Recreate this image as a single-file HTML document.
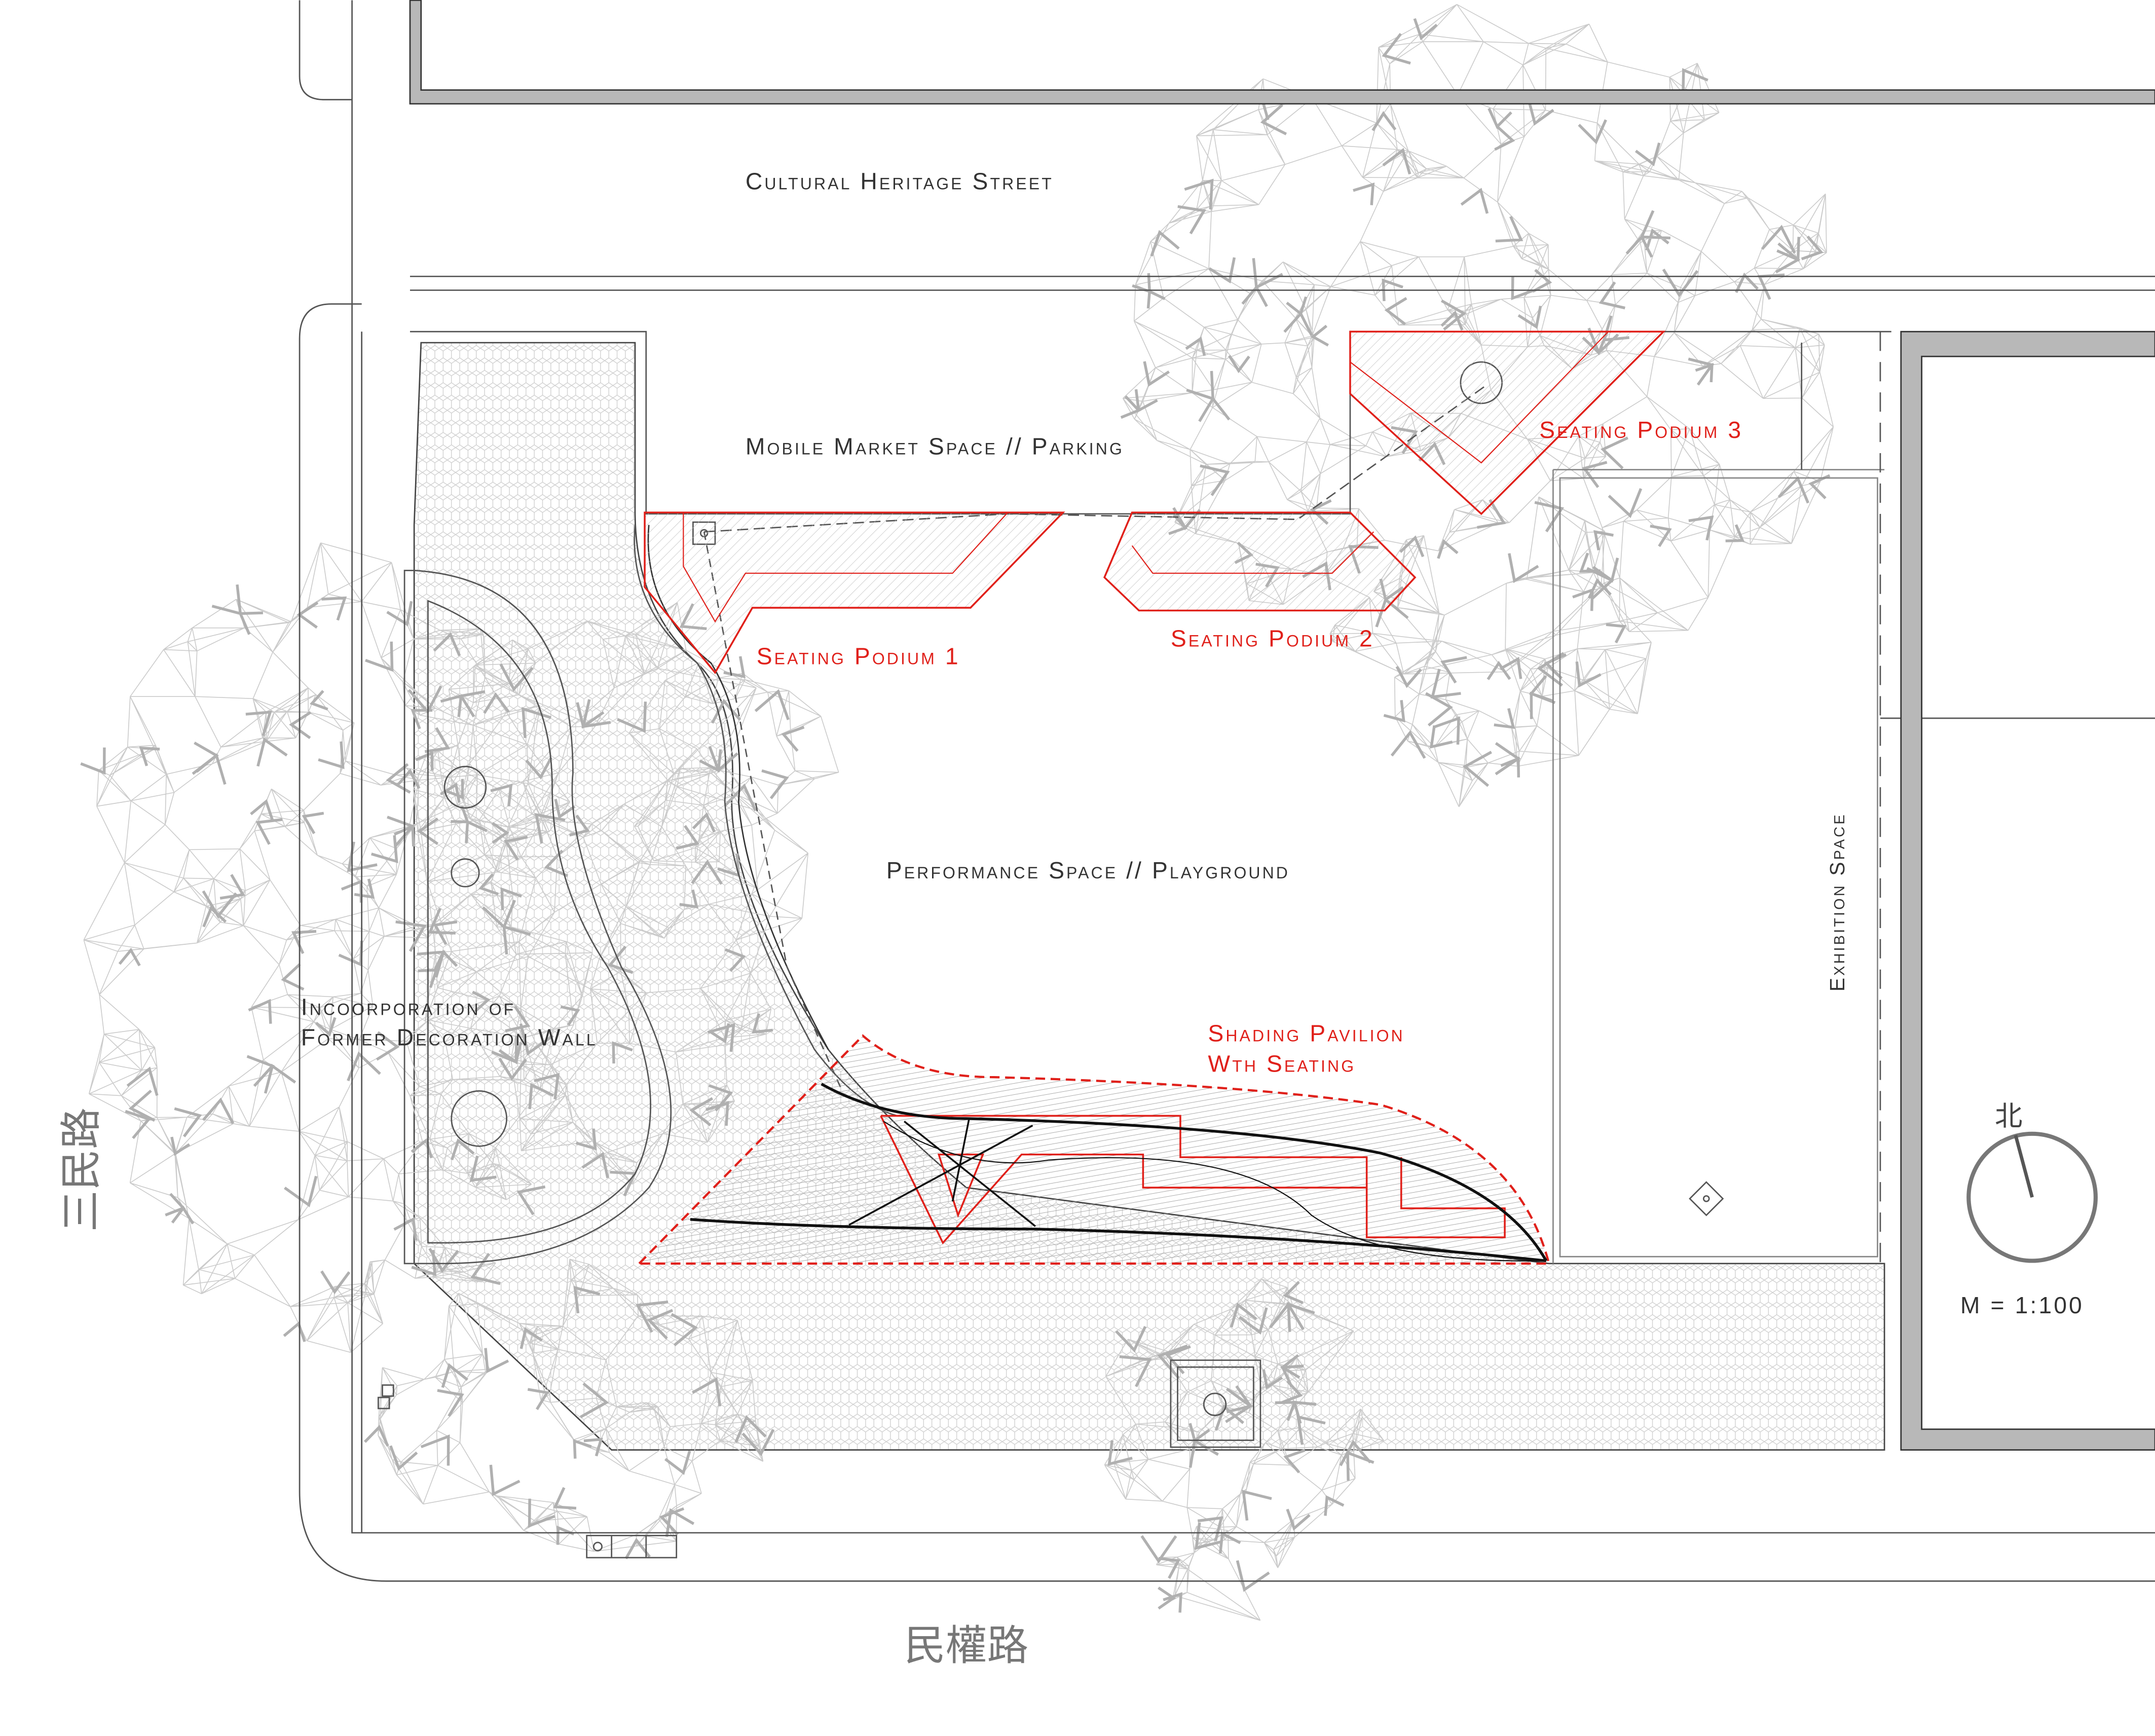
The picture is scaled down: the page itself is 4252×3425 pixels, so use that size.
<!DOCTYPE html>
<html><head><meta charset="utf-8"><style>
html,body{margin:0;padding:0;background:#fff}
svg{display:block}
.t{font-family:"Liberation Sans","Noto Sans CJK SC",sans-serif;font-variant:small-caps;letter-spacing:1.5px;fill:#333}
.r{fill:#e0201a}
</style></head><body>
<svg id="s" width="4252" height="3425" viewBox="0 0 1561 1257" xmlns="http://www.w3.org/2000/svg">
<defs>
<pattern id="hex" width="6" height="9" patternUnits="userSpaceOnUse">
<path d="M0 0 L3 2 L3 7 L0 9 M6 0 L3 2 M3 7 L6 9" fill="none" stroke="#cfcfcf" stroke-width="0.5"/>
</pattern>
<pattern id="hatch" width="4" height="4" patternUnits="userSpaceOnUse" patternTransform="rotate(80)">
<line x1="0" y1="0" x2="0" y2="4" stroke="#999" stroke-width="0.6"/>
</pattern>
<pattern id="hatch2" width="5" height="5" patternUnits="userSpaceOnUse" patternTransform="rotate(45)">
<line x1="0" y1="0" x2="0" y2="5" stroke="#bbb" stroke-width="0.5"/>
</pattern>
</defs>
<rect width="1561" height="1257" fill="#fff"/>
<!-- paving -->
<path d="M305 248 L460 248 L460 370 Q460 440 505 480 Q535 510 530 580 Q530 650 600 760 Q640 810 700 860 L1122 915 L1365 915 L1365 1050 L443 1050 L300 915 L300 380 Z" fill="url(#hex)" stroke="#444" stroke-width="1"/>
<g id="trees" fill="none"></g>
<!-- roads / boundaries -->
<g fill="none" stroke="#555" stroke-width="1">
<path d="M217 0 V55 Q217 72 235 72 H255"/>
<path d="M255 0 V1110 H1561"/>
<path d="M262 220 H240 Q217 220 217 245 V1080 Q217 1145 280 1145 H1561"/>
<path d="M297 200 H1561 M297 210 H1561"/>
<path d="M297 240 H468 V372 H978 V240 H1370"/>
<path d="M262 240 V1110"/>
<path d="M1125 340 H1365 M1125 340 V915 M1130 346 H1360 V910 H1130 Z" stroke="#888"/>
<path d="M1362 240 V915" stroke-dasharray="14 8"/>
<path d="M1362 520 H1561"/>
<path d="M1305 248 V340"/>
<path d="M293 413 H300 Q415 420 415 560 Q410 610 450 700 Q510 800 470 860 Q420 915 320 915 H293 Z"/>
<path d="M310 435 Q400 470 400 570 Q400 640 440 700 Q490 790 460 850 Q420 900 320 900 H310 Z"/>
<path d="M460 380 Q455 440 505 480 Q530 520 525 580 Q530 650 590 760 Q620 800 650 808"/>
<path d="M470 380 Q465 440 515 480 Q540 520 535 580 Q540 650 600 760" stroke="#333"/>
<path d="M510 385 L570 700 L610 790" stroke-dasharray="6 4"/>
<path d="M510 385 L730 372 L940 376 L1075 280" stroke-dasharray="8 4"/>
<rect x="848" y="985" width="65" height="63"/><rect x="853" y="990" width="55" height="53"/>
<circle cx="880" cy="1017" r="8"/>
<circle cx="337" cy="570" r="15"/><circle cx="337" cy="632" r="10"/><circle cx="347" cy="810" r="20"/>
<circle cx="1073" cy="277" r="15"/>
<rect x="502" y="378" width="16" height="16"/><circle cx="510" cy="386" r="2.5"/>
<rect x="425" y="1112" width="65" height="16"/><path d="M443 1112 V1128 M468 1112 V1128"/><circle cx="433" cy="1120" r="3"/>
<rect x="277" y="1003" width="8" height="8"/><rect x="274" y="1012" width="8" height="8"/>
<path d="M1236 856 L1248 868 L1236 880 L1224 868 Z"/><circle cx="1236" cy="868" r="2"/>
</g>
<!-- buildings -->
<g fill="#b8b8b8" stroke="#333" stroke-width="1">
<path d="M297 0 H305 V65 H1561 V75 H297 Z"/>
<path d="M1377 240 H1561 V258 H1392 V1035 H1561 V1050 H1377 Z"/>
</g>
<!-- podiums -->
<g fill="url(#hatch2)" stroke="#e0201a" stroke-width="1.3">
<path d="M467 371 H770 L703 440 H545 L518 487 L467 425 Z"/>
<path d="M820 371 H978 L1025 418 L1003 442 H825 L800 418 Z"/>
<path d="M978 240 H1205 L1073 372 L978 285 Z"/>
</g>
<g fill="none" stroke="#e0201a" stroke-width="0.8">
<path d="M495 371 V410 L518 450 L540 415 H690 L730 371"/>
<path d="M820 395 L835 415 H965 L995 385"/>
<path d="M978 262 L1073 335 L1165 240"/>
</g>
<!-- pavilion -->
<path d="M463 915 L625 750 Q660 780 720 780 Q900 785 1000 800 Q1100 830 1122 915 Z" fill="url(#hatch)" stroke="#e0201a" stroke-width="1.6" stroke-dasharray="7 4"/>
<g fill="none" stroke="#e0201a" stroke-width="1.3">
<path d="M638 808 H855 V838 H990 V896 H1090 V875 H1015 V838 M638 808 L683 900 L740 836 H828 V860 H990"/>
<path d="M680 836 H712 L694 880 Z"/>
</g>
<g fill="none" stroke="#111" stroke-width="2">
<path d="M595 785 Q640 810 700 810 Q900 815 1000 835 Q1090 860 1120 913"/>
<path d="M500 883 Q600 890 750 890 Q950 895 1120 913"/>
<path d="M615 887 L748 815 M655 812 L750 888 M702 810 L690 870" stroke-width="1.3"/>
<path d="M640 812 Q700 850 760 840 Q900 830 950 880 Q1000 915 1120 913" stroke-width="0.8"/>
</g>
<!-- labels -->
<text class="t" x="540" y="137" font-size="17">Cultural Heritage Street</text>
<text class="t" x="540" y="329" font-size="17">Mobile Market Space // Parking</text>
<text class="t" x="642" y="636" font-size="17">Performance Space // Playground</text>
<text class="t" x="218" y="735" font-size="17">Incoorporation of</text>
<text class="t" x="218" y="757" font-size="17">Former Decoration Wall</text>
<text class="t r" x="548" y="481" font-size="17">Seating Podium 1</text>
<text class="t r" x="848" y="468" font-size="17">Seating Podium 2</text>
<text class="t r" x="1115" y="317" font-size="17">Seating Podium 3</text>
<text class="t r" x="875" y="754" font-size="17">Shading Pavilion</text>
<text class="t r" x="875" y="776" font-size="17">Wth Seating</text>
<text class="t" transform="translate(1336 718) rotate(-90)" font-size="15">Exhibition Space</text>
<text class="t" x="1420" y="951" font-size="17" fill="#666">M = 1:100</text>
<text x="1455" y="815" font-size="20" text-anchor="middle" font-family="'Liberation Sans','Noto Sans CJK SC',sans-serif" fill="#444">北</text>
<circle cx="1472" cy="867" r="46" fill="none" stroke="#777" stroke-width="3"/>
<line x1="1472" y1="867" x2="1460" y2="822" stroke="#555" stroke-width="2.5"/>
<text x="655" y="1202" font-size="30" font-family="'Liberation Sans','Noto Sans CJK SC',sans-serif" fill="#777">民權路</text>
<text x="65" y="862" font-size="30" font-family="'Liberation Sans','Noto Sans CJK SC',sans-serif" fill="#777" transform="rotate(-90 82 875)">三民路</text>
</svg>
<script>
(function(){
var seed=11;function rnd(){seed=(seed*16807)%2147483647;return (seed-1)/2147483646;}
var g=document.getElementById('trees');var d='',d2='';
function cluster(cx,cy,rx,ry,n,k){
 var pts=[];for(var i=0;i<n;i++){var a=rnd()*6.283,r=Math.sqrt(rnd());pts.push([cx+Math.cos(a)*r*rx,cy+Math.sin(a)*r*ry]);}
 for(var i=0;i<n;i++){var p=pts[i];var ds=pts.map(function(q,j){return [(q[0]-p[0])*(q[0]-p[0])+(q[1]-p[1])*(q[1]-p[1]),j];}).sort(function(a,b){return a[0]-b[0];});
  for(var m=1;m<=k;m++){var q=pts[ds[m][1]];d+='M'+p[0].toFixed(1)+' '+p[1].toFixed(1)+'L'+q[0].toFixed(1)+' '+q[1].toFixed(1);}
  if(rnd()<0.35){var q=pts[ds[1][1]];var mx=(p[0]+q[0])/2,my=(p[1]+q[1])/2,a=rnd()*6.283,l=12+rnd()*10;
   d2+='M'+(mx+Math.cos(a)*l).toFixed(1)+' '+(my+Math.sin(a)*l).toFixed(1)+'L'+mx.toFixed(1)+' '+my.toFixed(1)+'L'+(mx+Math.cos(a+1.2)*l).toFixed(1)+' '+(my+Math.sin(a+1.2)*l).toFixed(1);}
 }
}
cluster(1080,250,270,250,260,5);
cluster(1090,470,110,120,60,5);
cluster(240,690,190,300,240,5);
cluster(440,640,150,220,120,5);
cluster(530,560,80,90,40,4);
cluster(420,1020,150,110,90,5);
cluster(900,1030,105,110,80,5);
cluster(880,1140,50,45,18,4);
var p=document.createElementNS('http://www.w3.org/2000/svg','path');p.setAttribute('d',d);p.setAttribute('stroke','#cbcbcb');p.setAttribute('stroke-width','0.6');g.appendChild(p);
var p2=document.createElementNS('http://www.w3.org/2000/svg','path');p2.setAttribute('d',d2);p2.setAttribute('stroke','#b0b0b0');p2.setAttribute('stroke-width','2');g.appendChild(p2);
})();
</script>
</body></html>
